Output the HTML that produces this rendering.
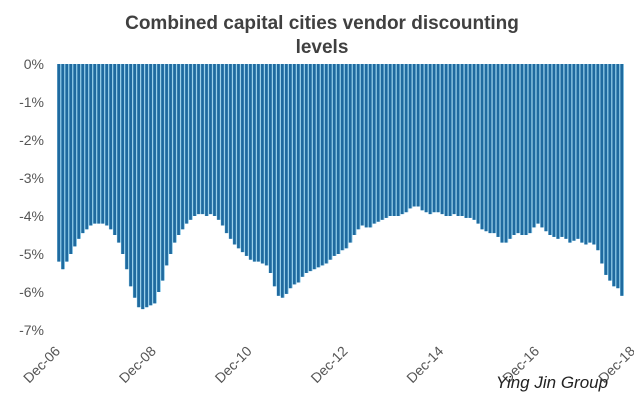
<!DOCTYPE html>
<html><head><meta charset="utf-8"><style>
body{margin:0;background:#fff;width:634px;height:407px;overflow:hidden}
svg text{font-family:"Liberation Sans",sans-serif}
</style></head><body>
<svg id="chart" width="634" height="407" viewBox="0 0 634 407">
<text x="322" y="29" text-anchor="middle" font-size="19" font-weight="bold" fill="#404040">Combined capital cities vendor discounting</text>
<text x="322" y="53" text-anchor="middle" font-size="19" font-weight="bold" fill="#404040">levels</text>
<g id="yaxis"></g><g id="bars"></g><g id="xaxis"></g>
<text x="552" y="388" text-anchor="middle" font-family="Liberation Serif,serif" font-style="italic" font-size="17" fill="#222">Ying Jin Group</text>
</svg>
<script>
const values=[-5.2,-5.4,-5.2,-5.0,-4.8,-4.6,-4.45,-4.35,-4.25,-4.2,-4.2,-4.2,-4.25,
-4.35,-4.5,-4.7,-5.0,-5.4,-5.85,-6.15,-6.4,-6.45,-6.4,-6.35,-6.3,
-6.0,-5.7,-5.3,-5.0,-4.7,-4.5,-4.35,-4.2,-4.1,-4.0,-3.95,-3.95,
-4.0,-3.95,-4.0,-4.1,-4.25,-4.45,-4.6,-4.75,-4.85,-4.95,-5.05,-5.15,
-5.2,-5.2,-5.25,-5.3,-5.5,-5.85,-6.1,-6.15,-6.05,-5.9,-5.8,-5.75,
-5.6,-5.5,-5.45,-5.4,-5.35,-5.3,-5.25,-5.15,-5.05,-5.0,-4.9,-4.85,
-4.7,-4.5,-4.35,-4.25,-4.3,-4.3,-4.2,-4.15,-4.1,-4.05,-4.0,-4.0,
-4.0,-3.95,-3.9,-3.8,-3.75,-3.75,-3.85,-3.9,-3.95,-3.9,-3.9,-3.95,
-4.0,-4.0,-3.95,-4.0,-4.0,-4.05,-4.05,-4.1,-4.2,-4.35,-4.4,-4.45,
-4.45,-4.55,-4.7,-4.7,-4.6,-4.5,-4.45,-4.5,-4.5,-4.45,-4.3,-4.2,
-4.3,-4.4,-4.5,-4.55,-4.6,-4.55,-4.6,-4.7,-4.65,-4.6,-4.7,-4.75,
-4.7,-4.75,-4.9,-5.25,-5.55,-5.7,-5.85,-5.9,-6.1];
const yTicks=[0,-1,-2,-3,-4,-5,-6,-7];
const xLabels=["Dec-06","Dec-08","Dec-10","Dec-12","Dec-14","Dec-16","Dec-18"];
const NS="http://www.w3.org/2000/svg";
const x0=57,x1=624,yTop=64,yPer=38;
const y=v=>yTop-v*yPer;
const step=(x1-x0)/values.length;
const xi=i=>x0+i*step;
function mk(t,a,p){const e=document.createElementNS(NS,t);for(const k in a)e.setAttribute(k,a[k]);p.appendChild(e);return e;}
const ya=document.getElementById('yaxis');
yTicks.forEach(t=>{const e=mk('text',{x:44,y:y(t)+5,'text-anchor':'end','font-size':14,fill:'#555'},ya);


e.textContent=t+'%';});
const bg=document.getElementById('bars');
values.forEach((v,i)=>{
const b=mk('rect',{x:xi(i),y:y(0),width:step,height:y(v)-y(0),fill:'#8fcbe8'},bg);


const r=mk('rect',{x:xi(i)+0.4,y:y(0),width:step*0.68,height:y(v)-y(0),fill:'#1f6a9f'},bg);


});
const xa=document.getElementById('xaxis');
xLabels.forEach((l,k)=>{const px=x0+k*24*step+4;const py=352;
const e=mk('text',{x:px,y:py,'text-anchor':'end','font-size':14,fill:'#555',transform:`rotate(-45 ${px} ${py})`},xa);


e.textContent=l;});
</script>
</body></html>
